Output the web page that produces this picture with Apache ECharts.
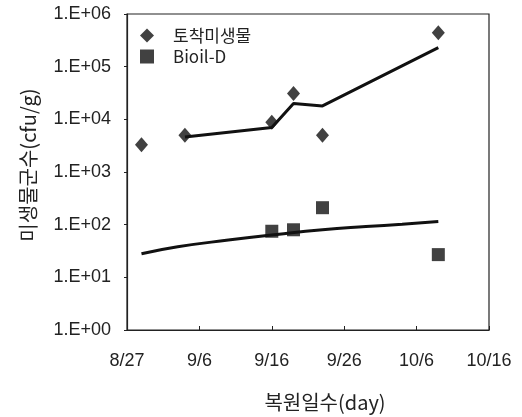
<!DOCTYPE html>
<html><head><meta charset="utf-8">
<script src="https://cdn.jsdelivr.net/npm/echarts@6/dist/echarts.min.js"></script>
<style>html,body{margin:0;padding:0;background:#fff}#c{width:522px;height:417px}</style>
</head><body><div id="c"></div>
<script>
// Days counted from 8/27
const xTickLabels = ['8/27','9/6','9/16','9/26','10/6','10/16'];
const yTickLabels = ['1.E+00','1.E+01','1.E+02','1.E+03','1.E+04','1.E+05','1.E+06'];
const seriesNames = ['토착미생물','Bioil-D'];
const nativeDays = [2, 8, 20, 23, 27, 43];
const nativeVals = [3300, 5000, 8800, 31000, 5000, 440000];
const nativeTrendDays = [8, 20, 23, 27, 43];
const nativeTrendVals = [4600, 7000, 20000, 18000, 230000];
const bioilDays = [20, 23, 27, 43];
const bioilVals = [75, 80, 210, 27];
const bioilTrendDays = [2, 7, 14, 21, 27, 33, 38, 43];
const bioilTrendVals = [28, 38, 51, 66, 80, 92, 102, 115];

const zip = (a, b) => a.map((d, i) => [d, b[i]]);
const font = 'Liberation Sans, Arial, sans-serif';
const kfont = 'Noto Sans CJK KR, ' + font;
const chart = echarts.init(document.getElementById('c'), null, {renderer: 'canvas'});
chart.setOption({
  animation: false,
  backgroundColor: '#fff',
  grid: {left: 127, right: 33, top: 14, bottom: 87, show: true, borderColor: '#222', borderWidth: 1.2},
  legend: {
    orient: 'vertical', left: 135, top: 22, itemGap: 4, itemWidth: 14, itemHeight: 14,
    data: [{name: seriesNames[0], icon: 'diamond'}, {name: seriesNames[1], icon: 'rect'}],
    textStyle: {fontFamily: kfont, fontSize: 17, color: '#222', padding: [0, 0, 0, 14]}
  },
  xAxis: {
    type: 'value', min: 0, max: 50, interval: 10,
    name: '복원일수(day)', nameLocation: 'middle', nameGap: 62,
    nameTextStyle: {fontFamily: kfont, fontSize: 20, color: '#222', padding: [0, 0, 0, 34]},
    axisLine: {lineStyle: {color: '#222', width: 1.2}},
    axisTick: {inside: true, length: 4, lineStyle: {color: '#222'}},
    splitLine: {show: false},
    axisLabel: {margin: 22, fontFamily: font, fontSize: 18, color: '#222',
      formatter: v => xTickLabels[Math.round(v / 10)] || ''}
  },
  yAxis: {
    type: 'log', logBase: 10, min: 1, max: 1e6,
    name: '미생물군수(cfu/g)', nameLocation: 'middle', nameGap: 89,
    nameTextStyle: {fontFamily: kfont, fontSize: 20, color: '#222', padding: [0, 0, 0, 14]},
    axisLine: {lineStyle: {color: '#222', width: 1.2}},
    axisTick: {length: 3, lineStyle: {color: '#222'}},
    splitLine: {show: false},
    axisLabel: {margin: 16, fontFamily: font, fontSize: 18, color: '#222',
      formatter: v => yTickLabels[Math.round(Math.log10(v))] || ''}
  },
  series: [
    {name: 'nativeTrend', type: 'line', data: zip(nativeTrendDays, nativeTrendVals), symbol: 'none',
      lineStyle: {color: '#111', width: 3}, z: 1},
    {name: 'bioilTrend', type: 'line', data: zip(bioilTrendDays, bioilTrendVals), symbol: 'none', smooth: true,
      lineStyle: {color: '#111', width: 3}, z: 1},
    {name: seriesNames[0], type: 'scatter', data: zip(nativeDays, nativeVals), symbol: 'diamond', symbolSize: [13, 15],
      itemStyle: {color: '#111'}, z: 3},
    {name: seriesNames[1], type: 'scatter', data: zip(bioilDays, bioilVals), symbol: 'rect', symbolSize: 13,
      itemStyle: {color: '#111'}, z: 3}
  ]
});
</script></body></html>
